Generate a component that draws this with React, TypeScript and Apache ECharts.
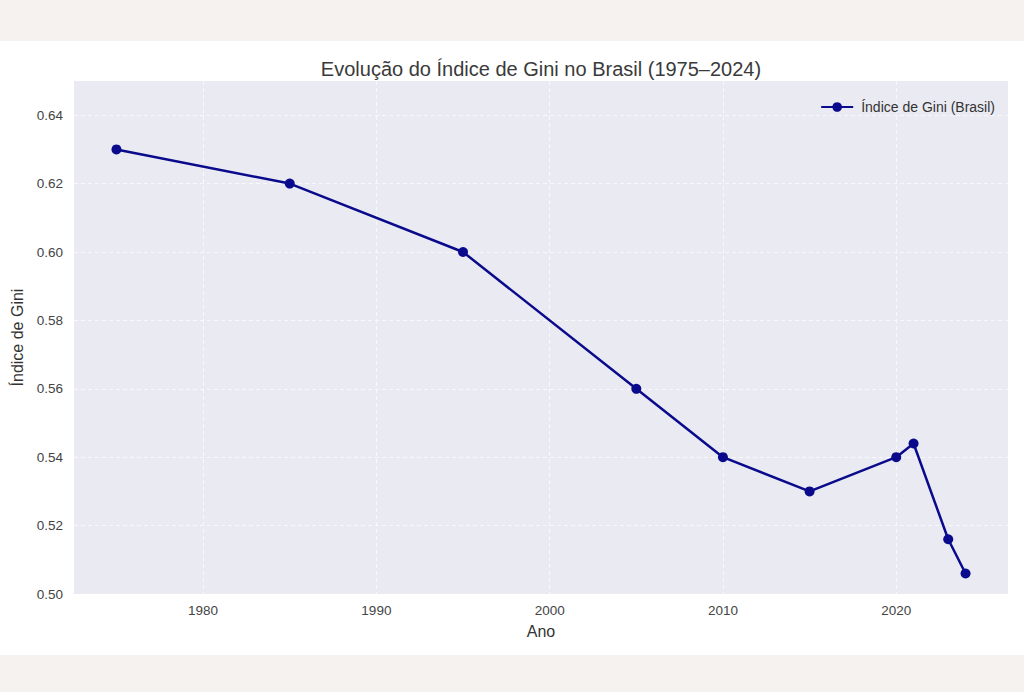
import React, { useEffect, useRef } from "react";
import * as echarts from "echarts";

const years = [1975, 1985, 1995, 2005, 2010, 2015, 2020, 2021, 2023, 2024];
const gini = [0.63, 0.62, 0.6, 0.56, 0.54, 0.53, 0.54, 0.544, 0.516, 0.506];
const xTicks = [1980, 1990, 2000, 2010, 2020];
const yTicks = [0.5, 0.52, 0.54, 0.56, 0.58, 0.6, 0.62, 0.64];

const FONT = "'Liberation Sans', Arial, sans-serif";

export default function App() {
  const ref = useRef<HTMLDivElement>(null);
  useEffect(() => {
    if (!ref.current) return;
    const chart = echarts.init(ref.current, undefined, { renderer: "svg" });
    const gridLine = {
      show: true,
      lineStyle: { color: "rgba(255,255,255,0.7)", type: [4, 3], width: 1 },
    };
    chart.setOption({
      animation: false,
      backgroundColor: "transparent",
      textStyle: { fontFamily: FONT },
      title: {
        text: "Evolução do Índice de Gini no Brasil (1975–2024)",
        left: 536,
        textAlign: "center",
        top: 54,
        textStyle: { fontSize: 20, fontWeight: "normal", color: "#3a3a3a", fontFamily: FONT },
      },
      legend: {
        right: 24,
        top: 95,
        itemWidth: 32,
        itemHeight: 12,
        itemGap: 10,
        textStyle: { fontSize: 14, color: "#333333", fontFamily: FONT, padding: [0, 0, 0, 3] },
        data: ["Índice de Gini (Brasil)"],
      },
      grid: {
        left: 74,
        right: 16,
        top: 81,
        bottom: 98,
        show: true,
        backgroundColor: "#eaeaf2",
        borderWidth: 0,
      },
      xAxis: {
        type: "value",
        min: 1972.55,
        max: 2026.45,
        name: "Ano",
        nameLocation: "middle",
        nameGap: 29,
        nameTextStyle: { fontSize: 16, color: "#333333", fontFamily: FONT },
        axisLine: { show: false },
        axisTick: { show: false, customValues: xTicks },
        axisLabel: {
          customValues: xTicks,
          fontSize: 13.5,
          color: "#444444",
          margin: 9,
          formatter: (v: number) => String(Math.round(v)),
        },
        splitLine: gridLine,
      },
      yAxis: {
        type: "value",
        min: 0.5,
        max: 0.65,
        name: "Índice de Gini",
        nameLocation: "middle",
        nameGap: 46,
        nameTextStyle: { fontSize: 16, color: "#333333", fontFamily: FONT },
        axisLine: { show: false },
        axisTick: { show: false, customValues: yTicks },
        axisLabel: {
          customValues: yTicks,
          fontSize: 13.5,
          color: "#444444",
          margin: 11,
          formatter: (v: number) => v.toFixed(2),
        },
        splitLine: gridLine,
      },
      series: [
        {
          name: "Índice de Gini (Brasil)",
          type: "line",
          data: years.map((y, i) => [y, gini[i]]),
          symbol: "circle",
          symbolSize: 10,
          lineStyle: { color: "#0a0a8c", width: 2.5 },
          itemStyle: { color: "#0a0a8c" },
        },
      ],
    });
    return () => chart.dispose();
  }, []);
  return (
    <div
      style={{
        position: "absolute",
        left: 0,
        top: 0,
        width: 1024,
        height: 692,
        background:
          "linear-gradient(to bottom, #f5f2ef 0px, #f5f2ef 41px, #ffffff 41px, #ffffff 655px, #f5f2ef 655px, #f5f2ef 692px)",
      }}
    >
      <div ref={ref} style={{ width: 1024, height: 692 }} />
    </div>
  );
}
